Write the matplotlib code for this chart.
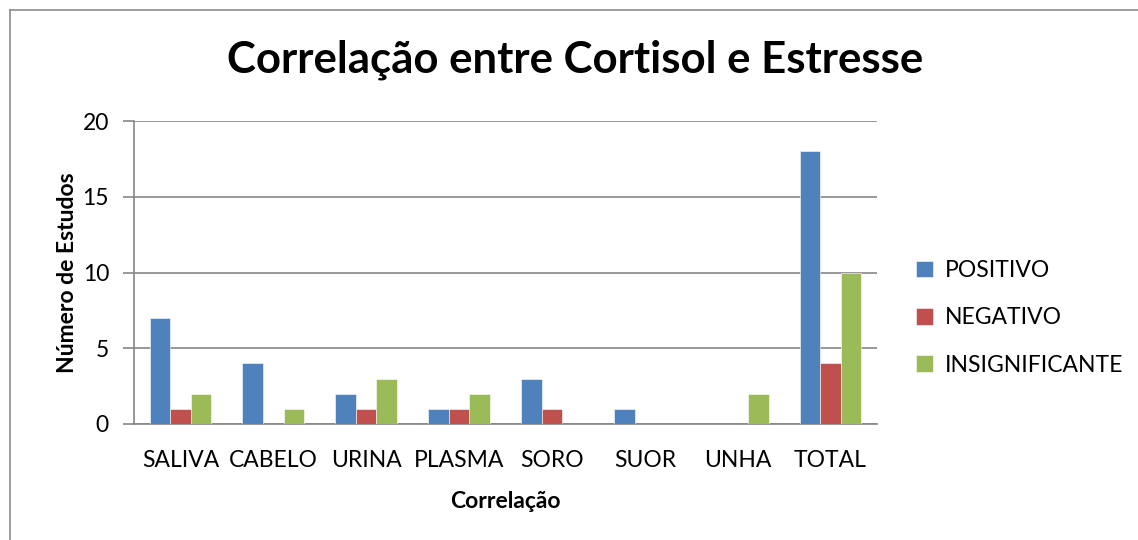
import numpy as np
import matplotlib.pyplot as plt
from matplotlib.lines import Line2D

categories = ["SALIVA", "CABELO", "URINA", "PLASMA", "SORO", "SUOR", "UNHA", "TOTAL"]
positivo = [7, 4, 2, 1, 3, 1, 0, 18]
negativo = [1, 0, 1, 1, 1, 0, 0, 4]
insignificante = [2, 1, 3, 2, 0, 0, 2, 10]
series_names = ["POSITIVO", "NEGATIVO", "INSIGNIFICANTE"]
colors = ["#4F81BD", "#C0504D", "#9BBB59"]

plt.rcParams['font.family'] = ['Lato', 'DejaVu Sans']

W, H = 1138, 540
fig = plt.figure(figsize=(W / 100, H / 100), dpi=100)
ax = fig.add_axes([134 / W, 1 - 424 / H, 743 / W, 303 / H])

# outer chart border: only left and top visible in the source
bx, by = 9.5 / W, 1 - 9.5 / H
fig.add_artist(Line2D([bx, bx], [0, by], transform=fig.transFigure,
                      color="#8c8c8c", linewidth=1.2))
fig.add_artist(Line2D([bx, 1.01], [by, by], transform=fig.transFigure,
                      color="#8c8c8c", linewidth=1.2))

x = np.arange(len(categories))
w = 0.222
for i, (vals, name, col) in enumerate(zip([positivo, negativo, insignificante],
                                          series_names, colors)):
    ax.bar(x + (i - 1) * w, vals, width=w, color=col, label=name,
           edgecolor="white", linewidth=0.4, zorder=3)

ax.set_xlim(-0.5, len(categories) - 0.5)
ax.set_ylim(0, 20)
ax.set_yticks([0, 5, 10, 15, 20])
ax.set_xticks(x)
ax.set_xticklabels(categories)
ax.yaxis.grid(True, color="#868686", linewidth=1.2, zorder=0)
ax.tick_params(axis="x", length=0, labelsize=16.5, pad=19)
ax.tick_params(axis="y", length=8, width=1.2, color="#868686", labelsize=16.5, pad=10)
for s in ["top", "right"]:
    ax.spines[s].set_visible(False)
for s in ["left", "bottom"]:
    ax.spines[s].set_color("#868686")
    ax.spines[s].set_linewidth(1.2)

ax.set_xlabel("Correlação", fontsize=16.5, fontweight="bold", labelpad=14)
ax.set_ylabel("Número de Estudos", fontsize=16.5, fontweight="bold", labelpad=3)
fig.text(575 / W, 1 - 60 / H, "Correlação entre Cortisol e Estresse", ha="center",
         va="center", fontsize=31.5, fontweight="bold")

ax.legend(loc="center left", bbox_to_anchor=(1.025, 0.35), frameon=False,
          fontsize=16.5, handlelength=0.75, handleheight=0.75, labelspacing=1.15,
          handletextpad=0.5)

fig.savefig("out.png", dpi=100)
